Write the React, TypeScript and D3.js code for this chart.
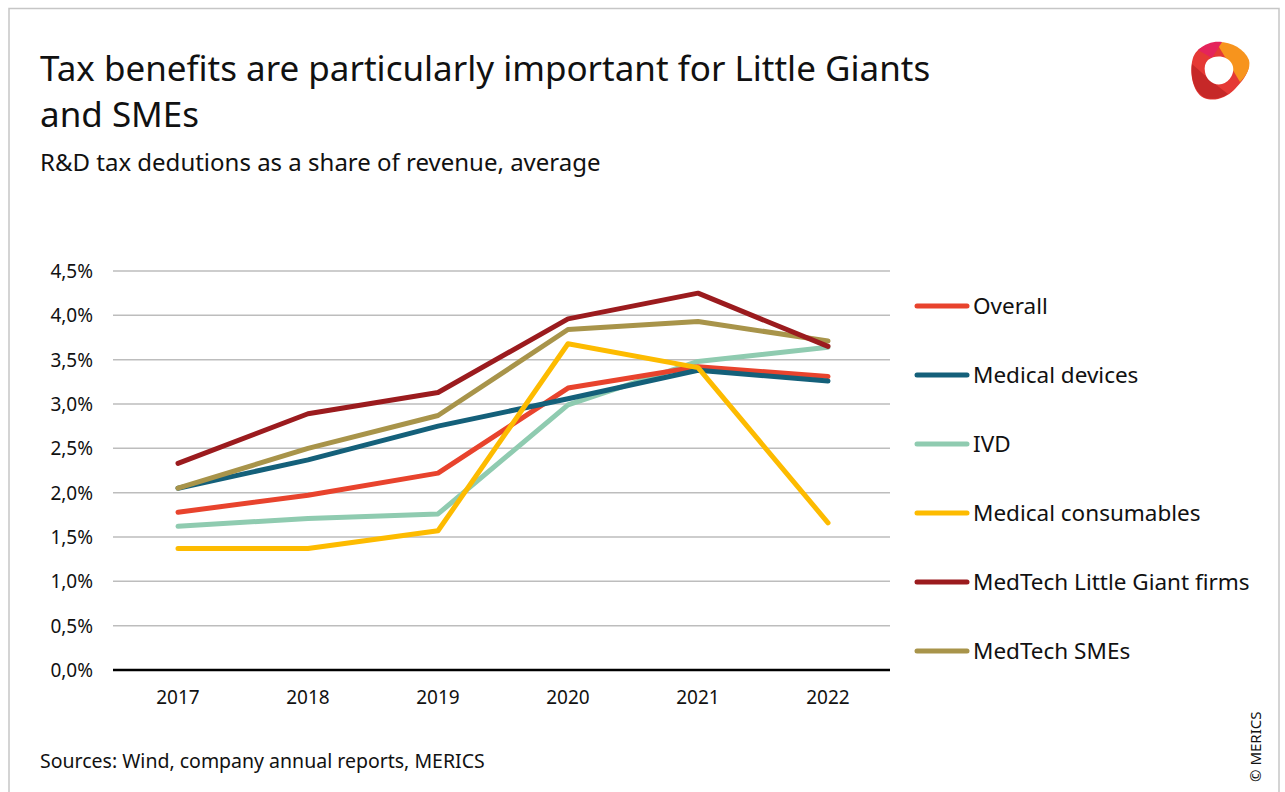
import { useMemo } from 'react';
import * as d3 from 'd3';

const years = ['2017', '2018', '2019', '2020', '2021', '2022'];
const yTicks = [0, 0.5, 1, 1.5, 2, 2.5, 3, 3.5, 4, 4.5];

const seriesNames = [
  'Overall',
  'Medical devices',
  'IVD',
  'Medical consumables',
  'MedTech Little Giant firms',
  'MedTech SMEs',
];
const seriesColors = ['#E8432D', '#14607A', '#8FCBB0', '#FDBB00', '#9B1B1E', '#A8944A'];

const overall = [1.78, 1.97, 2.22, 3.18, 3.42, 3.31];
const medicalDevices = [2.05, 2.37, 2.75, 3.06, 3.38, 3.26];
const ivd = [1.62, 1.71, 1.76, 2.99, 3.48, 3.64];
const medicalConsumables = [1.37, 1.37, 1.57, 3.68, 3.41, 1.66];
const littleGiants = [2.33, 2.89, 3.13, 3.96, 4.25, 3.65];
const smes = [2.05, 2.5, 2.87, 3.84, 3.93, 3.71];

const seriesValues = [overall, medicalDevices, ivd, medicalConsumables, littleGiants, smes];
// draw order: back to front
const drawOrder = [2, 0, 1, 3, 5, 4];

const W = 1285;
const H = 792;
const FONT = '"Noto Sans", "DejaVu Sans", sans-serif';

export default function App() {
  const x = useMemo(() => d3.scaleBand().domain(years).range([113, 893]), []);
  const y = useMemo(() => d3.scaleLinear().domain([0, 4.5]).range([670, 271]), []);

  const line = d3
    .line<number>()
    .x((_, i) => (x(years[i]) as number) + x.bandwidth() / 2)
    .y((d) => y(d));

  const fmt = (v: number) => v.toFixed(1).replace('.', ',') + '%';

  return (
    <svg
      width={W}
      height={H}
      style={{ position: 'absolute', left: 0, top: 0, display: 'block', background: '#fff' }}
      fontFamily={FONT}
    >
      <rect x={9} y={8.5} width={1270} height={800} fill="#fff" stroke="#c6c6c6" strokeWidth={1.5} />

      {/* title */}
      <text x={40} y={81} fontSize={35} fill="#111">
        Tax benefits are particularly important for Little Giants
      </text>
      <text x={40} y={127} fontSize={35} fill="#111">
        and SMEs
      </text>
      <text x={40} y={171} fontSize={24} fill="#111">
        R&amp;D tax dedutions as a share of revenue, average
      </text>

      {/* logo */}
      <g transform="translate(1220,72)">
        <path
          d="M-22,-22 C-10,-32 18,-30 28,-12 C32,-2 22,10 14,18 C6,26 -6,30 -16,26 C-28,20 -30,0 -28,-10 C-27,-16 -25,-19 -22,-22 Z"
          fill="#E53935"
        />
        <path d="M-4,-30 C10,-31 24,-24 29,-12 C31,-4 26,4 20,10 L8,-10 Z" fill="#F7941D" />
        <path d="M-22,-22 C-14,-29 -6,-31 2,-30 L-8,-14 Z" fill="#E4245B" />
        <path d="M-28,-8 C-30,8 -24,22 -14,26 C-6,28 2,26 8,22 L-10,8 Z" fill="#C62828" />
        <path
          d="M-12,-12 C-4,-18 8,-16 12,-8 C16,0 10,10 2,12 C-6,14 -14,8 -15,0 C-16,-5 -15,-9 -12,-12 Z"
          fill="#fff"
        />
      </g>

      {/* gridlines */}
      {yTicks.slice(1).map((t) => (
        <line key={t} x1={113} x2={890} y1={y(t)} y2={y(t)} stroke="#bdbdbd" strokeWidth={1.5} />
      ))}
      <line x1={113} x2={890} y1={y(0)} y2={y(0)} stroke="#000" strokeWidth={2.5} />

      {/* y tick labels */}
      {yTicks.map((t) => (
        <text key={t} x={93} y={y(t) + 7} fontSize={19} textAnchor="end" fill="#111">
          {fmt(t)}
        </text>
      ))}

      {/* x labels */}
      {years.map((yr) => (
        <text
          key={yr}
          x={(x(yr) as number) + x.bandwidth() / 2}
          y={704}
          fontSize={19}
          textAnchor="middle"
          fill="#111"
        >
          {yr}
        </text>
      ))}

      {/* lines */}
      {drawOrder.map((i) => (
        <path
          key={seriesNames[i]}
          d={line(seriesValues[i]) as string}
          fill="none"
          stroke={seriesColors[i]}
          strokeWidth={5}
          strokeLinecap="round"
          strokeLinejoin="round"
        />
      ))}

      {/* legend */}
      {seriesNames.map((name, i) => {
        const ly = 306 + i * 69;
        return (
          <g key={name}>
            <line x1={917} x2={967} y1={ly} y2={ly} stroke={seriesColors[i]} strokeWidth={5} strokeLinecap="round" />
            <text x={973} y={ly + 8} fontSize={22.5} fill="#111">
              {name}
            </text>
          </g>
        );
      })}

      <text x={40} y={768} fontSize={19.5} fill="#111">
        Sources: Wind, company annual reports, MERICS
      </text>
      <text transform="translate(1261,782) rotate(-90)" fontSize={15} fill="#111">
        © MERICS
      </text>
    </svg>
  );
}
